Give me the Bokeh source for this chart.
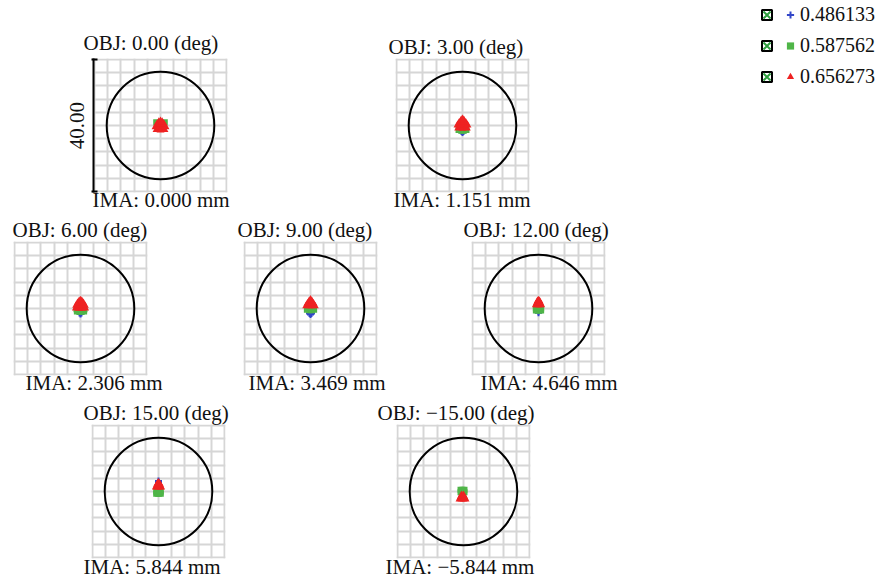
from bokeh.plotting import figure
from bokeh.models import Range1d, Grid, FixedTicker, LinearAxis, Title, Legend, LegendItem, Spacer
from bokeh.layouts import row, column
from bokeh.embed import file_html
from bokeh.resources import INLINE

# ---------------- data ----------------
field_deg = [0.0, 3.0, 6.0, 9.0, 12.0, 15.0, -15.0]
image_mm = [0.000, 1.151, 2.306, 3.469, 4.646, 5.844, -5.844]
wavelengths = [0.486133, 0.587562, 0.656273]
airy_radius = [16.3, 16.3, 16.3, 16.3, 16.3, 16.3, 16.3]
box_size = 40.00
grid_ticks = [-20, -16, -12, -8, -4, 0, 4, 8, 12, 16, 20]

# spot positions (micron, relative to chief ray), one list per field
blue_x = [
    [0, -0.5, 0.5, 0],
    [0, -0.3, 0.3, 0],
    [0, -0.3, 0.3, 0],
    [0, -0.3, 0.3, 0],
    [0, 0],
    [0, 0],
    [-0.3, -0.3],
]
blue_y = [
    [0.2, -0.3, -0.3, -0.8],
    [-2.1, -1.8, -1.8, -1.2],
    [-1.7, -1.4, -1.4, -1.0],
    [-1.8, -1.5, -1.5, -1.0],
    [-1.3, -0.9],
    [3.2, 2.8],
    [-0.6, -0.2],
]
green_x = [
    [-1.3, 1.3, -0.8, 0.8, 0, 0],
    [-1.2, -0.4, 0.4, 1.2, -1.0, 1.0],
    [-1.1, -0.4, 0.4, 1.1, -1.2, 0, 1.2],
    [-1.1, -0.4, 0.4, 1.1, -1.0, 0, 1.0],
    [-0.8, -0.3, 0.3, 0.8, -0.8, -0.3, 0.3, 0.8],
    [-0.7, -0.2, 0.2, 0.7, -0.7, -0.2, 0.2, 0.7],
    [-0.9, -0.3, 0.3, -0.9, -0.3, 0.3],
]
green_y = [
    [1.0, 1.0, 0.4, 0.4, 0, -0.8],
    [-1.4, -1.6, -1.6, -1.4, -0.6, -0.6],
    [-0.9, -1.0, -1.0, -0.9, -0.2, -0.3, -0.2],
    [-0.4, -0.5, -0.5, -0.4, 0.3, 0.3, 0.3],
    [-0.6, -0.6, -0.6, -0.6, 0.1, 0.1, 0.1, 0.1],
    [-0.7, -0.7, -0.7, -0.7, 0.0, 0.0, 0.0, 0.0],
    [0.5, 0.5, 0.5, -0.2, -0.2, -0.2],
]
red_x = [
    [-1.2, 0, 1.2, -1.5, -0.5, 0.5, 1.5, -1.0, 0, 1.0, -0.5, 0.5, 0],
    [-1.3, 0, 1.3, -1.5, -0.5, 0.5, 1.5, -1.0, 0, 1.0, -0.4, 0.4, 0],
    [-1.4, -0.5, 0.5, 1.4, -1.3, -0.4, 0.4, 1.3, -0.9, 0, 0.9, -0.4, 0.4, 0],
    [-1.3, -0.4, 0.4, 1.3, -0.9, 0, 0.9, -0.4, 0.4, 0],
    [-0.8, -0.3, 0.3, 0.8, -0.5, 0, 0.5, -0.3, 0.3, 0],
    [-0.8, -0.3, 0.3, 0.8, -0.5, 0, 0.5, -0.3, 0.3, 0],
    [-1.2, -0.6, 0, 0.6, -0.9, -0.3, 0.3, -0.6, 0],
]
red_y = [
    [-1.3, -1.4, -1.3, -0.4, -0.5, -0.5, -0.4, 0.5, 0.5, 0.5, 1.1, 1.1, 1.3],
    [-0.8, -0.9, -0.8, 0.1, 0, 0, 0.1, 0.9, 0.9, 0.9, 1.6, 1.6, 1.9],
    [0.1, 0.0, 0.0, 0.1, 0.9, 0.9, 0.9, 0.9, 1.6, 1.7, 1.6, 2.2, 2.2, 2.5],
    [0.8, 0.8, 0.8, 0.8, 1.5, 1.5, 1.5, 2.2, 2.2, 2.7],
    [1.1, 1.1, 1.1, 1.1, 1.7, 1.7, 1.7, 2.2, 2.2, 2.5],
    [1.3, 1.3, 1.3, 1.3, 1.9, 1.9, 1.9, 2.4, 2.4, 2.7],
    [-2.3, -2.3, -2.3, -2.3, -1.7, -1.7, -1.7, -1.1, -1.1],
]

# ---------------- style ----------------
FONT = "Liberation Serif"
FS = "21px"
BLUE = "#3347c8"
GREEN = "#4fb548"
RED = "#ee2222"
GRID = "#d6d6d6"
FRAME = 134
LIM = 20.3


def fmt(v, nd):
    return f"{v:.{nd}f}".replace("-", "\u2212")


def make_panel(i, ml, mr, mt, mb, obj_off, ima_off, obj_so=-1, ima_so=-10, scale_bar=False):
    p = figure(
        title=f"OBJ: {fmt(field_deg[i], 2)} (deg)",
        frame_width=FRAME, frame_height=FRAME,
        x_range=Range1d(-LIM, LIM), y_range=Range1d(-LIM, LIM),
        x_axis_type=None, y_axis_type=None,
        toolbar_location=None, output_backend="svg",
        min_border_left=ml, min_border_right=mr,
        min_border_top=mt, min_border_bottom=mb,
        outline_line_color=None,
        background_fill_color="white", border_fill_color="white",
    )
    p.title.align = "left"
    p.title.offset = obj_off
    p.title.standoff = obj_so
    p.title.text_font = FONT
    p.title.text_font_size = FS
    p.title.text_font_style = "normal"
    p.title.text_color = "#111111"

    for dim in (0, 1):
        p.add_layout(Grid(dimension=dim, ticker=FixedTicker(ticks=grid_ticks),
                          grid_line_color=GRID, grid_line_width=2))

    p.circle(x=[0], y=[0], radius=[airy_radius[i]], fill_color=None,
             line_color="black", line_width=2)
    p.scatter(x=blue_x[i], y=blue_y[i], marker="cross", size=7,
              line_color=BLUE, line_width=2)
    p.scatter(x=green_x[i], y=green_y[i], marker="square", size=6,
              fill_color=GREEN, line_color=None)
    p.scatter(x=red_x[i], y=red_y[i], marker="triangle", size=8,
              fill_color=RED, line_color=None)

    ima = Title(text=f"IMA: {fmt(image_mm[i], 3)} mm", align="left", offset=ima_off,
                vertical_align="top", standoff=ima_so,
                text_font=FONT, text_font_size=FS, text_font_style="normal",
                text_color="#111111")
    p.add_layout(ima, "below")

    if scale_bar:
        ends = [-box_size / 2, box_size / 2]
        ax = LinearAxis(ticker=FixedTicker(ticks=ends),
                        axis_label=f"{box_size:.2f}",
                        axis_line_width=2, axis_line_color="black",
                        major_tick_line_width=2, major_tick_line_color="black",
                        major_tick_in=4, major_tick_out=2,
                        minor_tick_line_color=None,
                        major_label_overrides={ends[0]: "", ends[1]: ""},
                        major_label_standoff=0,
                        axis_label_standoff=8,
                        axis_label_text_font=FONT,
                        axis_label_text_font_size=FS,
                        axis_label_text_font_style="normal",
                        axis_label_text_color="#111111")
        p.add_layout(ax, "left")
    return p


pA = make_panel(0, 40, 25, 58, 23, -10, -1, obj_so=7, scale_bar=True)
pB = make_panel(1, 25, 25, 58, 23, -7, -2)
pC = make_panel(2, 5, 25, 26, 23, -1, 12)
pD = make_panel(3, 25, 25, 26, 23, -6, 5)
pE = make_panel(4, 25, 25, 26, 23, -8, 9)
pF = make_panel(5, 25, 25, 26, 19, -8, -8, ima_so=-8)
pG = make_panel(6, 25, 25, 26, 19, -19, -11, ima_so=-8)


# legend panels (checkbox column + symbol/label column)
def legend_fig(width):
    return figure(width=width, height=100, x_range=Range1d(0, 1), y_range=Range1d(0, 1),
                  x_axis_type=None, y_axis_type=None, toolbar_location=None,
                  output_backend="svg", outline_line_color=None, min_border=0)


common = dict(location="top_left", padding=0, margin=2, border_line_color=None,
              background_fill_alpha=0, glyph_height=25, label_height=22, spacing=6,
              label_text_font=FONT, label_text_font_size="20px",
              label_text_color="#111111", inactive_fill_alpha=0)

lg1 = legend_fig(27)
chk_box = lg1.scatter(x=wavelengths, y=wavelengths, marker="square", fill_color="white",
                      line_color="black", line_width=2, visible=False)
chk_mark = lg1.scatter(x=wavelengths, y=wavelengths, marker="x", line_color="#2e9e3e",
                       line_width=2, visible=False)
leg1 = Legend(items=[LegendItem(label="", renderers=[chk_box, chk_mark]) for _ in wavelengths],
              glyph_width=25, label_standoff=0, label_width=0, **common)
lg1.add_layout(leg1)

lg2 = legend_fig(99)
sym_b = lg2.scatter(x=[wavelengths[0]], y=[wavelengths[0]], marker="cross",
                    line_color=BLUE, line_width=2, visible=False)
sym_g = lg2.scatter(x=[wavelengths[1]], y=[wavelengths[1]], marker="square",
                    fill_color=GREEN, line_color=None, visible=False)
sym_r = lg2.scatter(x=[wavelengths[2]], y=[wavelengths[2]], marker="triangle",
                    fill_color=RED, line_color=None, visible=False)
leg2 = Legend(items=[LegendItem(label=f"{w:.6f}", renderers=[r])
                     for w, r in zip(wavelengths, [sym_b, sym_g, sym_r])],
              glyph_width=18, label_standoff=1, **common)
lg2.add_layout(leg2)

row1 = row(Spacer(width=53, height=215), pA, Spacer(width=118, height=215), pB)
row2 = row(Spacer(width=8, height=183), pC, Spacer(width=46, height=183), pD,
           Spacer(width=44, height=183), pE)
row3 = row(Spacer(width=66, height=179), pF, Spacer(width=121, height=179), pG)
panels = column(row1, row2, row3)
legend_box = column(row(Spacer(width=122, height=100), lg1, lg2))
layout = row(panels, legend_box)

open("out.html", "w").write(file_html(layout, INLINE))
